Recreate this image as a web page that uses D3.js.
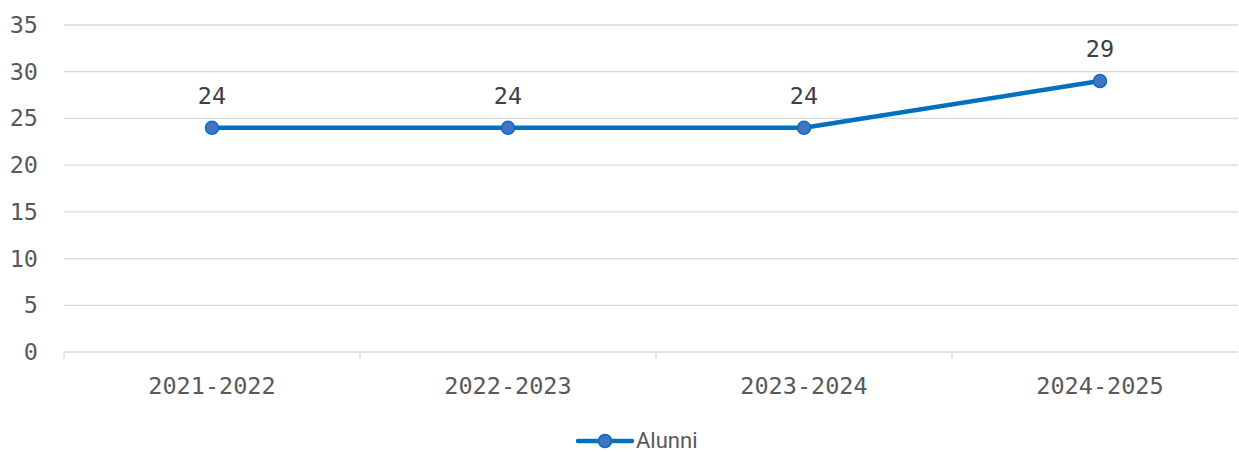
<!DOCTYPE html>
<html>
<head>
<meta charset="utf-8">
<script src="https://cdn.jsdelivr.net/npm/d3@7"></script>
<style>
  body { margin: 0; background: #fff; }
  svg { display: block; }
</style>
</head>
<body>
<div id="chart"></div>
<script>
const svgWidth = 1239;
const svgHeight = 452;

// data
const years = ["2021-2022", "2022-2023", "2023-2024", "2024-2025"];
const alunni = [24, 24, 24, 29];
const yTicks = [0, 5, 10, 15, 20, 25, 30, 35];
const seriesName = "Alunni";

const monoFont = "'DejaVu Sans Mono', monospace";
const labelSize = "23.5px";

const svg = d3.select("#chart")
  .append("svg")
  .attr("width", svgWidth)
  .attr("height", svgHeight);

// scales
const xScale = d3.scaleBand()
  .domain(years)
  .range([64, 1248]);

const yScale = d3.scaleLinear()
  .domain([0, 35])
  .range([352, 25]);

const gridRight = 1238;

// gridlines
svg.append("g")
  .selectAll("line")
  .data(yTicks.filter(d => d > 0))
  .enter()
  .append("line")
  .attr("x1", 64)
  .attr("x2", gridRight)
  .attr("y1", d => yScale(d))
  .attr("y2", d => yScale(d))
  .attr("stroke", "#d9d9d9")
  .attr("stroke-width", 1.3);

// y axis labels
const leftAxis = d3.axisLeft(yScale).tickValues(yTicks).tickSize(0).tickPadding(26);
const yAxis = svg.append("g")
  .attr("transform", "translate(64,0)")
  .call(leftAxis);
yAxis.select(".domain").remove();
yAxis.selectAll("text")
  .attr("font-family", monoFont)
  .attr("font-size", labelSize)
  .attr("fill", "#595959");

// x axis
const bottomAxis = d3.axisBottom(xScale).tickSize(0).tickPadding(25);
const xAxis = svg.append("g")
  .attr("transform", `translate(0, ${yScale(0)})`)
  .call(bottomAxis);
xAxis.select(".domain").remove();
xAxis.selectAll("text")
  .attr("font-family", monoFont)
  .attr("font-size", labelSize)
  .attr("fill", "#595959");

svg.append("line")
  .attr("x1", 64)
  .attr("x2", gridRight)
  .attr("y1", yScale(0))
  .attr("y2", yScale(0))
  .attr("stroke", "#d9d9d9")
  .attr("stroke-width", 1.3);

// category tick marks at band boundaries
svg.append("g")
  .selectAll("line")
  .data(years.concat(["end"]))
  .enter()
  .append("line")
  .attr("x1", (d, i) => 64 + i * xScale.step())
  .attr("x2", (d, i) => 64 + i * xScale.step())
  .attr("y1", yScale(0))
  .attr("y2", yScale(0) + 7)
  .attr("stroke", "#d9d9d9")
  .attr("stroke-width", 1.3);

const cx = d => xScale(d) + xScale.bandwidth() / 2;

// line
const line = d3.line()
  .x((d, i) => cx(years[i]))
  .y(d => yScale(d));

svg.append("path")
  .datum(alunni)
  .attr("d", line)
  .attr("fill", "none")
  .attr("stroke", "#0070c0")
  .attr("stroke-width", 4.5)
  .attr("stroke-linejoin", "round")
  .attr("stroke-linecap", "round");

// markers
svg.append("g")
  .selectAll("circle")
  .data(alunni)
  .enter()
  .append("circle")
  .attr("cx", (d, i) => cx(years[i]))
  .attr("cy", d => yScale(d))
  .attr("r", 6.5)
  .attr("fill", "#4472c4")
  .attr("stroke", "#0070c0")
  .attr("stroke-width", 1.5);

// data labels
svg.append("g")
  .selectAll("text")
  .data(alunni)
  .enter()
  .append("text")
  .attr("x", (d, i) => cx(years[i]))
  .attr("y", d => yScale(d) - 24)
  .attr("text-anchor", "middle")
  .attr("font-family", monoFont)
  .attr("font-size", labelSize)
  .attr("fill", "#404040")
  .text(d => d);

// legend
const legend = svg.append("g").attr("transform", "translate(578, 441)");
legend.append("line")
  .attr("x1", 0).attr("x2", 54)
  .attr("y1", 0).attr("y2", 0)
  .attr("stroke", "#0070c0")
  .attr("stroke-width", 4.5)
  .attr("stroke-linecap", "round");
legend.append("circle")
  .attr("cx", 27).attr("cy", 0).attr("r", 6.5)
  .attr("fill", "#4472c4")
  .attr("stroke", "#0070c0")
  .attr("stroke-width", 1.5);
legend.append("text")
  .attr("x", 58)
  .attr("y", 7)
  .attr("font-family", "Roboto, sans-serif")
  .attr("font-size", "22px")
  .attr("fill", "#595959")
  .text(seriesName);
</script>
</body>
</html>
